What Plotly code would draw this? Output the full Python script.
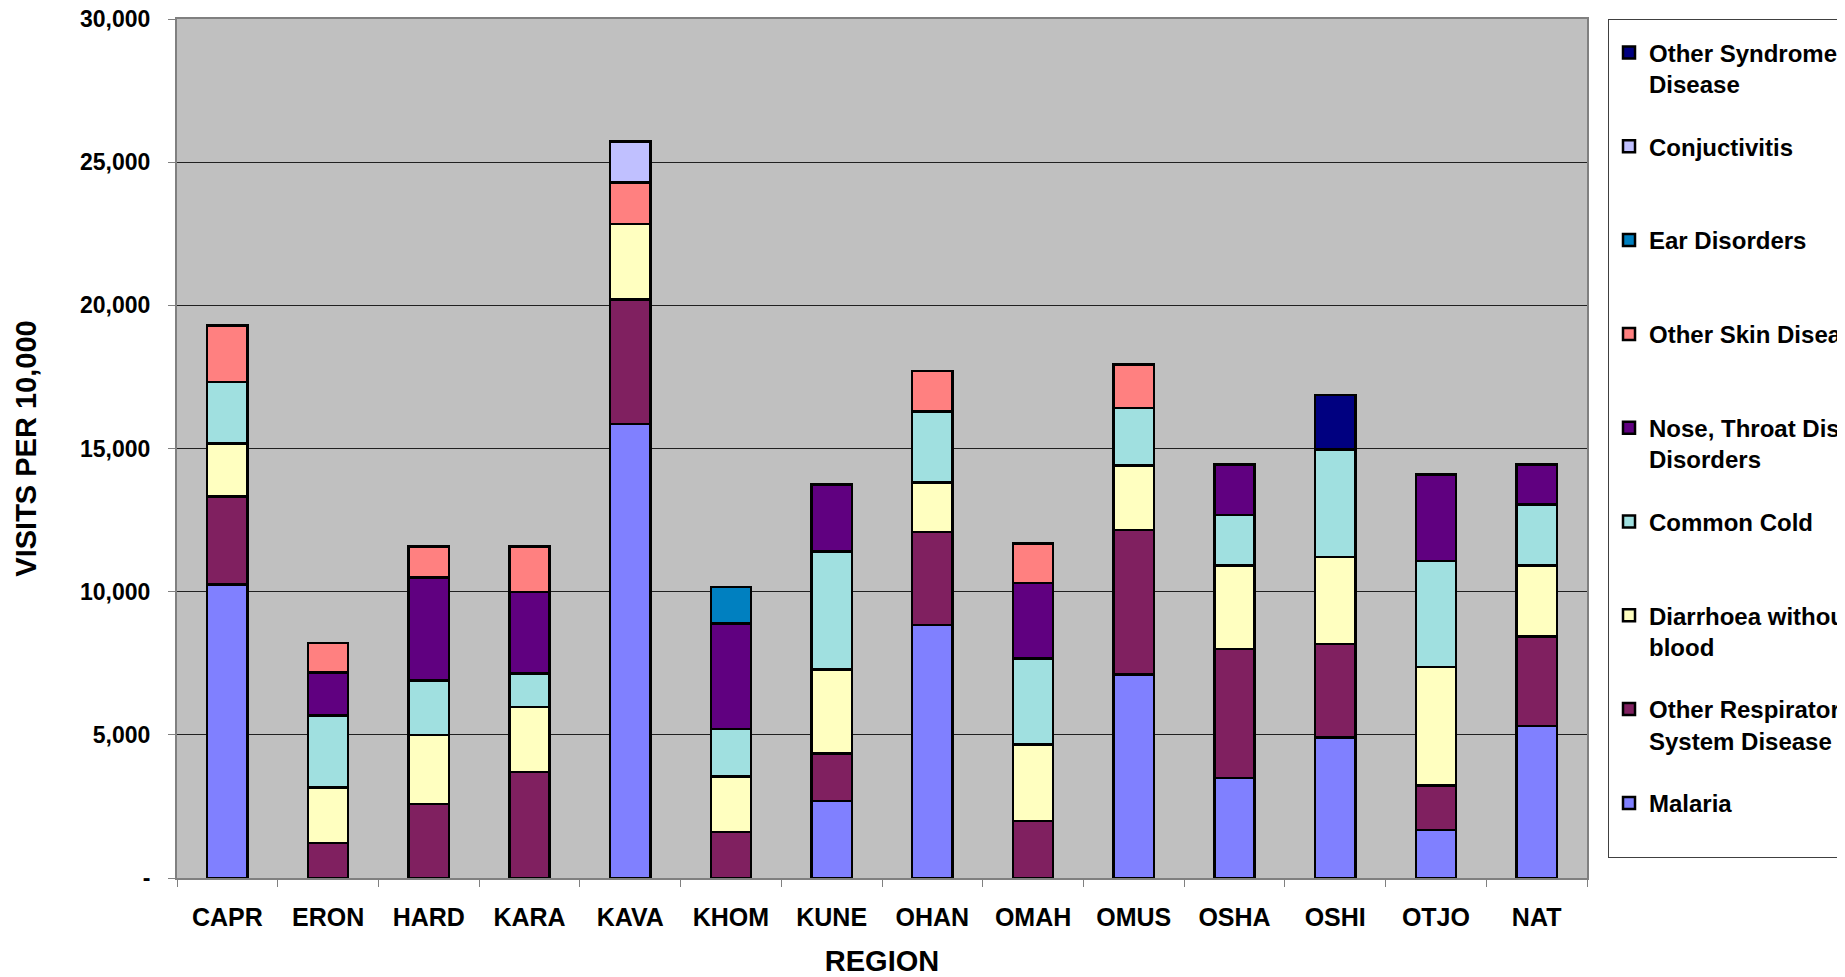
import plotly.graph_objects as go

regions = ["CAPR", "ERON", "HARD", "KARA", "KAVA", "KHOM", "KUNE",
           "OHAN", "OMAH", "OMUS", "OSHA", "OSHI", "OTJO", "NAT"]

# visits per 10,000, stacked bottom to top
malaria = [10250, None, None, None, 15850, None, 2690, 8840, None, 7110, 3490, 4900, 1680, 5300]
respiratory = [3070, 1230, 2590, 3710, 4350, 1610, 1650, 3240, 1990, 5050, 4500, 3280, 1550, 3140]
diarrhoea = [1850, 1930, 2410, 2270, 2635, 1940, 2950, 1730, 2670, 2240, 2920, 3030, 4140, 2470]
common_cold = [2160, 2520, 1890, 1160, None, 1650, 4110, 2480, 3000, 2020, 1770, 3750, 3700, 2130]
nose_throat = [None, 1490, 3600, 2840, None, 3690, 2340, None, 2650, None, 1760, None, 3020, 1400]
skin = [1970, 1030, 1090, 1590, 1460, None, None, 1420, 1370, 1520, None, None, None, None]
ear = [None, None, None, None, None, 1280, None, None, None, None, None, None, None, None]
conjuctivitis = [None, None, None, None, 1420, None, None, None, None, None, None, None, None, None]
other_syndrome = [None, None, None, None, None, None, None, None, None, None, None, 1900, None, None]

y_ticks = [0, 5000, 10000, 15000, 20000, 25000, 30000]
y_tick_text = ["-", "5,000", "10,000", "15,000", "20,000", "25,000", "30,000"]

series = [
    ("Malaria<br>\u00a0", malaria, "#8080FF"),
    ("Other Respiratory<br>System Disease", respiratory, "#802060"),
    ("Diarrhoea without<br>blood", diarrhoea, "#FFFFC0"),
    ("Common Cold<br>\u00a0", common_cold, "#A0E0E0"),
    ("Nose, Throat Disease<br>Disorders", nose_throat, "#600080"),
    ("Other Skin Disease<br>\u00a0", skin, "#FF8080"),
    ("Ear Disorders<br>\u00a0", ear, "#0080C0"),
    ("Conjuctivitis<br>\u00a0", conjuctivitis, "#C0C0FF"),
    ("Other Syndrome<br>Disease", other_syndrome, "#000080"),
]

fig = go.Figure()
for i, (name, vals, color) in enumerate(series):
    fig.add_trace(go.Bar(
        x=regions, y=vals, name=name, legendgroup=str(i),
        legendrank=100 - i,
        marker=dict(color=color, line=dict(color="black", width=2.5)),
    ))

font_family = "Liberation Sans, Arial, sans-serif"

# page body adds an 8px offset, so the figure is sized 8px smaller
fig.update_layout(
    width=1837, height=969,
    barmode="stack", bargap=0.6,
    paper_bgcolor="white", plot_bgcolor="#C0C0C0",
    font=dict(family=font_family, color="black", weight="bold"),
    margin=dict(l=169, r=258, t=11, b=99, autoexpand=False),
    showlegend=True,
    legend=dict(
        x=1.0149, y=1.0, xanchor="left", yanchor="top",
        bgcolor="white", bordercolor="#404040", borderwidth=1,
        font=dict(size=24, family=font_family, weight="bold"),
        title=dict(text="\u00a0", font=dict(size=8)),
        traceorder="grouped", tracegroupgap=28.4,
        valign="top",
    ),
    xaxis=dict(
        title=dict(text="REGION", font=dict(size=29, weight="bold"), standoff=22),
        tickfont=dict(size=25, weight="bold"),
        ticks="outside", tickson="boundaries", ticklen=7, tickcolor="#808080",
        ticklabelstandoff=16,
        showline=True, linecolor="#808080", linewidth=2, mirror=True,
        showgrid=False,
    ),
    yaxis=dict(
        title=dict(text="VISITS PER 10,000", font=dict(size=29, weight="bold"), standoff=35),
        range=[0, 30000],
        tickvals=y_ticks, ticktext=y_tick_text,
        tickfont=dict(size=23, weight="bold"),
        ticks="outside", ticklen=7, tickcolor="#808080",
        ticklabelstandoff=13, ticklabeloverflow="allow",
        showline=True, linecolor="#808080", linewidth=2, mirror=True,
        showgrid=True, gridcolor="#202020", gridwidth=1,
        zeroline=False,
    ),
)

fig.write_html("out.html")
